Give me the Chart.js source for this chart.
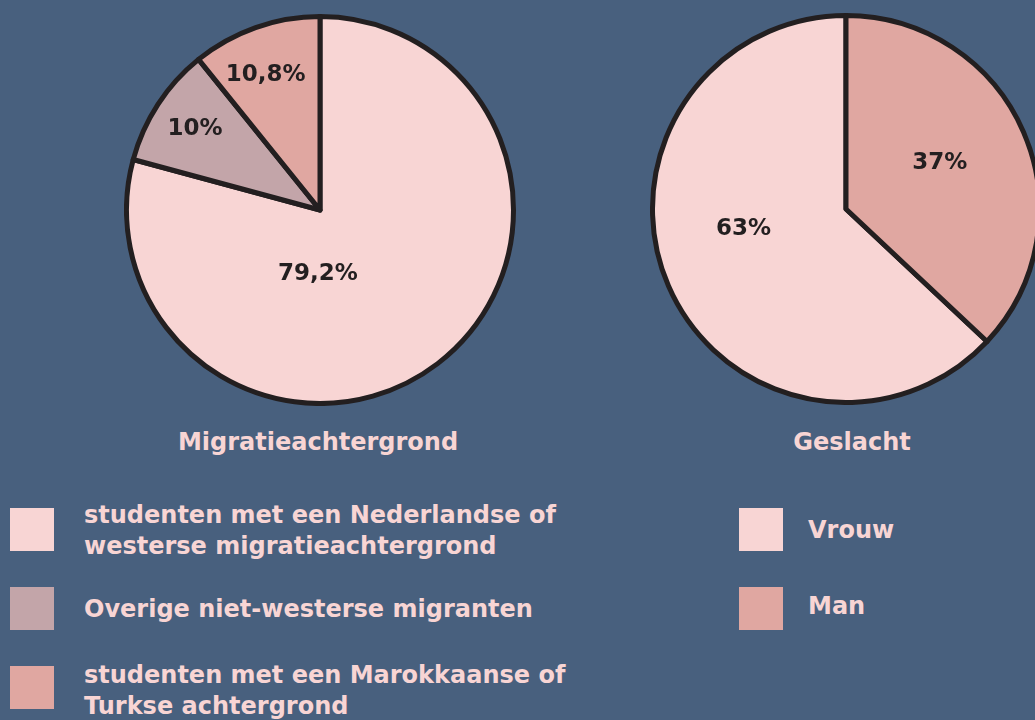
<!DOCTYPE html>
<html><head><meta charset="utf-8">
<script src="https://cdn.jsdelivr.net/npm/chart.js@4.4.1/dist/chart.umd.min.js"></script>
<style>
html,body{margin:0;padding:0;width:1035px;height:720px;overflow:hidden;background:#48607e;}
body{position:relative;font-family:"DejaVu Sans",sans-serif;font-weight:700;color:#f8d5d4;}
.pie{position:absolute;}
.title{position:absolute;top:426px;font-size:24px;text-align:center;width:400px;line-height:32px;}
.sw{position:absolute;width:44px;height:43px;}
.txt{position:absolute;font-size:24px;line-height:31px;white-space:nowrap;}
</style></head><body>
<div class="pie" id="p1" style="left:124px;top:14px;width:392px;height:392px"><canvas id="c1"></canvas></div>
<div class="pie" id="p2" style="left:650px;top:13px;width:392px;height:392px"><canvas id="c2"></canvas></div>
<div class="title" style="left:118px">Migratieachtergrond</div>
<div class="title" style="left:652px">Geslacht</div>
<div id="leg1"></div>
<div id="leg2"></div>
<script>
// Migratieachtergrond
const migLabels = ["studenten met een Nederlandse of<br>westerse migratieachtergrond", "Overige niet-westerse migranten", "studenten met een Marokkaanse of<br>Turkse achtergrond"];
const migValues = [79.2, 10, 10.8];
const migText = ["79,2%", "10%", "10,8%"];
// Geslacht
const genLabels = ["Vrouw", "Man"];
const genValues = [63, 37];
const genText = ["63%", "37%"];

const migColors = ["#f8d5d4", "#c3a5a9", "#e0a7a1"];
const genColors = ["#f8d5d4", "#e0a7a1"];
// label placement: [angle from 12 o'clock (deg, clockwise), fraction of radius]
const migLabelPos = [[181.8, 0.33], [303, 0.77], [338, 0.75]];
const genLabelPos = [[258.7, 0.54], [63.7, 0.54]];

const labelPlugin = {
  id: 'sliceLabels',
  afterDatasetsDraw(chart, args, opts) {
    const ctx = chart.ctx;
    const meta = chart.getDatasetMeta(0);
    ctx.save();
    ctx.font = '700 23px "DejaVu Sans", sans-serif';
    ctx.fillStyle = '#231f20';
    ctx.textAlign = 'center';
    ctx.textBaseline = 'middle';
    meta.data.forEach((arc, i) => {
      const [deg, f] = opts.pos[i];
      const a = deg * Math.PI / 180;
      const r = arc.outerRadius * f;
      ctx.fillText(opts.text[i], arc.x + Math.sin(a) * r, arc.y - Math.cos(a) * r);
    });
    ctx.restore();
  }
};

function makePie(id, labels, values, colors, rotation, text, pos) {
  return new Chart(document.getElementById(id), {
    type: 'pie',
    data: { labels: labels, datasets: [{ data: values, backgroundColor: colors, borderColor: '#231f20', borderWidth: 5, borderJoinStyle: 'round' }] },
    options: {
      responsive: true, maintainAspectRatio: false, animation: false,
      rotation: rotation,
      layout: { padding: 0 },
      plugins: { legend: { display: false }, tooltip: { enabled: false }, sliceLabels: { text: text, pos: pos } }
    },
    plugins: [labelPlugin]
  });
}
makePie('c1', migLabels, migValues, migColors, 0, migText, migLabelPos);
// Man slice starts at 12 o'clock, so Vrouw starts after Man's share
makePie('c2', genLabels, genValues, genColors, genValues[1] / 100 * 360, genText, genLabelPos);

function makeLegend(id, labels, colors, sqLeft, sqTops, txtLeft, txtTops) {
  const el = document.getElementById(id);
  labels.forEach((l, i) => {
    const sw = document.createElement('div');
    sw.className = 'sw';
    sw.style.left = sqLeft + 'px';
    sw.style.top = sqTops[i] + 'px';
    sw.style.background = colors[i];
    el.appendChild(sw);
    const t = document.createElement('div');
    t.className = 'txt';
    t.style.left = txtLeft + 'px';
    t.style.top = txtTops[i] + 'px';
    t.innerHTML = l;
    el.appendChild(t);
  });
}
makeLegend('leg1', migLabels, migColors, 10, [508, 587, 666], 84, [500, 594, 660]);
makeLegend('leg2', genLabels, genColors, 739, [508, 587], 808, [515, 591]);
</script>
</body></html>
